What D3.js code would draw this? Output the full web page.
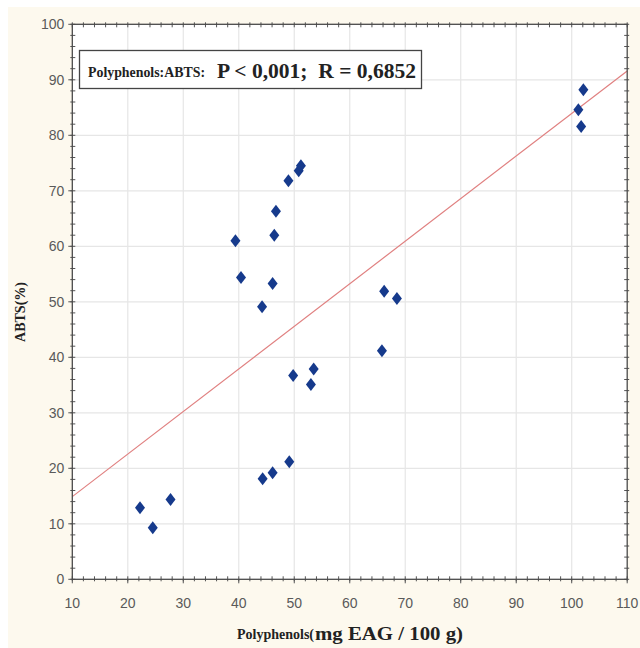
<!DOCTYPE html>
<html>
<head>
<meta charset="utf-8">
<script src="https://cdn.jsdelivr.net/npm/d3@7"></script>
<style>
  html, body { margin: 0; padding: 0; background: #ffffff; }
  svg { display: block; }
</style>
</head>
<body>
<script>
// Polyphenol content (mg EAG / 100 g) against ABTS radical scavenging (%)
const polyphenols = [22.2, 24.5, 27.7, 39.4, 40.4, 44.2, 46.1, 46.4, 46.7, 48.95, 50.8, 51.2,
                     44.3, 46.1, 49.1, 49.8, 53.0, 53.5, 65.8, 66.2, 68.5, 101.2, 101.7, 102.1];
const abts        = [12.9, 9.3, 14.4, 61.0, 54.4, 49.1, 53.3, 62.0, 66.3, 71.8, 73.6, 74.5,
                     18.1, 19.2, 21.2, 36.7, 35.1, 37.9, 41.2, 51.9, 50.6, 84.6, 81.6, 88.2];

// Fitted linear regression: ABTS = intercept + slope * polyphenols
const fitIntercept = 7.23;
const fitSlope = 0.767;

const xTicks = [10, 20, 30, 40, 50, 60, 70, 80, 90, 100, 110];
const yTicks = [0, 10, 20, 30, 40, 50, 60, 70, 80, 90, 100];
const minorStep = 2;

const statLabel = "Polyphenols:ABTS:";
const statValues = "P < 0,001;  R = 0,6852";
const xTitleSmall = "Polyphenols(";
const xTitleLarge = "mg EAG / 100 g)";
const yTitle = "ABTS(%)";

const W = 640, H = 648;
const plotL = 72.3, plotR = 627.2, plotT = 24.3, plotB = 579.3;

const svg = d3.select("body").append("svg").attr("width", W).attr("height", H);

svg.append("rect").attr("x", 8).attr("y", 7).attr("width", W - 8).attr("height", H - 7)
  .attr("fill", "#fdf9ee");

const x = d3.scaleLinear().domain([10, 110]).range([plotL, plotR]);
const y = d3.scaleLinear().domain([0, 100]).range([plotB, plotT]);

// plot area
svg.append("rect").attr("x", plotL).attr("y", plotT)
  .attr("width", plotR - plotL).attr("height", plotB - plotT).attr("fill", "#ffffff");

// gridlines
const grid = svg.append("g").attr("stroke", "#e6e6e6").attr("stroke-width", 1.2);
grid.selectAll("line.gx").data(xTicks.slice(1, -1)).join("line")
  .attr("x1", d => x(d)).attr("x2", d => x(d)).attr("y1", plotT).attr("y2", plotB);
grid.selectAll("line.gy").data(yTicks.slice(1, -1)).join("line")
  .attr("x1", plotL).attr("x2", plotR).attr("y1", d => y(d)).attr("y2", d => y(d));

// regression line
svg.append("line")
  .attr("x1", x(10)).attr("y1", y(fitIntercept + fitSlope * 10))
  .attr("x2", x(110)).attr("y2", y(fitIntercept + fitSlope * 110))
  .attr("stroke", "#e08080").attr("stroke-width", 1.2);

// frame ticks (major and minor) on all four sides
const minorX = d3.range(10, 110.001, minorStep);
const minorY = d3.range(0, 100.001, minorStep);
const tk = svg.append("g").attr("stroke", "#555").attr("stroke-width", 1);
tk.selectAll("line.bx").data(minorX).join("line")
  .attr("x1", d => x(d)).attr("x2", d => x(d)).attr("y1", plotB - 3).attr("y2", plotB + 2);
tk.selectAll("line.tx").data(minorX).join("line")
  .attr("x1", d => x(d)).attr("x2", d => x(d)).attr("y1", plotT - 2).attr("y2", plotT + 3);
tk.selectAll("line.ly").data(minorY).join("line")
  .attr("x1", plotL - 2).attr("x2", plotL + 3).attr("y1", d => y(d)).attr("y2", d => y(d));
tk.selectAll("line.ry").data(minorY).join("line")
  .attr("x1", plotR - 3).attr("x2", plotR + 2).attr("y1", d => y(d)).attr("y2", d => y(d));
tk.selectAll("line.mx").data(xTicks).join("line")
  .attr("x1", d => x(d)).attr("x2", d => x(d)).attr("y1", plotB).attr("y2", plotB + 4);
tk.selectAll("line.my").data(yTicks).join("line")
  .attr("x1", plotL - 4).attr("x2", plotL).attr("y1", d => y(d)).attr("y2", d => y(d));

svg.append("rect").attr("x", plotL).attr("y", plotT)
  .attr("width", plotR - plotL).attr("height", plotB - plotT)
  .attr("fill", "none").attr("stroke", "#4a4a4a").attr("stroke-width", 1.3);

// tick labels
const tickFont = "'Liberation Sans Narrow', 'Arial Narrow', 'Liberation Sans', sans-serif";
svg.append("g").selectAll("text").data(xTicks).join("text")
  .attr("x", d => x(d)).attr("y", plotB + 29)
  .attr("text-anchor", "middle").attr("font-family", tickFont).attr("font-size", 14)
  .attr("fill", "#5a5a5a").text(d => d);
svg.append("g").selectAll("text").data(yTicks).join("text")
  .attr("x", plotL - 8).attr("y", d => y(d) + 5)
  .attr("text-anchor", "end").attr("font-family", tickFont).attr("font-size", 14)
  .attr("fill", "#5a5a5a").text(d => d);

// points
const pts = polyphenols.map((p, i) => ({ p, a: abts[i] }));
svg.append("g").selectAll("path").data(pts).join("path")
  .attr("transform", d => `translate(${x(d.p)},${y(d.a)})`)
  .attr("d", "M0,-6.5L5,0L0,6.5L-5,0Z")
  .attr("fill", "#163a8c");

// statistics box
const serif = "'Liberation Serif', 'Times New Roman', serif";
svg.append("rect").attr("x", 79.5).attr("y", 50.5).attr("width", 342).attr("height", 38)
  .attr("fill", "#ffffff").attr("stroke", "#444").attr("stroke-width", 1.3);
svg.append("text").attr("x", 88).attr("y", 76.5)
  .attr("font-family", serif).attr("font-weight", "bold").attr("fill", "#222")
  .attr("font-size", 14).attr("textLength", 117).attr("lengthAdjust", "spacingAndGlyphs")
  .text(statLabel);
svg.append("text").attr("x", 217).attr("y", 78)
  .attr("font-family", serif).attr("font-weight", "bold").attr("fill", "#222")
  .attr("font-size", 21).attr("textLength", 199).attr("lengthAdjust", "spacingAndGlyphs")
  .style("white-space", "pre").text(statValues);

// axis titles
svg.append("text").attr("x", 237).attr("y", 639)
  .attr("font-family", serif).attr("font-weight", "bold").attr("fill", "#222")
  .attr("font-size", 14.5).attr("textLength", 77).attr("lengthAdjust", "spacingAndGlyphs")
  .text(xTitleSmall);
svg.append("text").attr("x", 315).attr("y", 640)
  .attr("font-family", serif).attr("font-weight", "bold").attr("fill", "#222")
  .attr("font-size", 18.5).attr("textLength", 148).attr("lengthAdjust", "spacingAndGlyphs")
  .text(xTitleLarge);

svg.append("text")
  .attr("transform", `translate(25,312) rotate(-90)`)
  .attr("text-anchor", "middle").attr("font-family", serif).attr("font-weight", "bold")
  .attr("font-size", 14).attr("textLength", 60).attr("lengthAdjust", "spacingAndGlyphs")
  .attr("fill", "#222").text(yTitle);
</script>
</body>
</html>
